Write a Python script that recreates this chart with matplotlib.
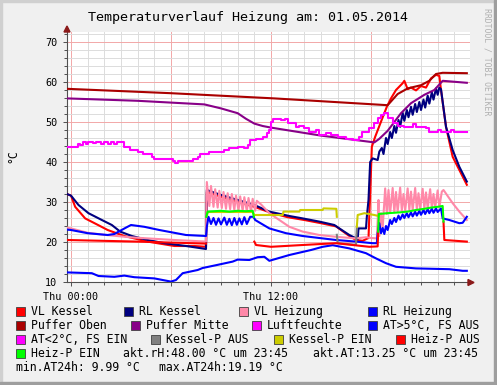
import numpy as np
import matplotlib
matplotlib.use("Agg")
import matplotlib.pyplot as plt
from matplotlib.patches import Rectangle, Polygon

nan = np.nan

# time in hours since Thu 00:00, values in degC / %
vl_kessel_t = [-0.25, 0.0, 0.25, 0.85, 1.6, 2.2, 3.2, 4.6, 6.2, 7.4, 8.1, 8.15, 9.0, 10.0, 11.0,
               12.0, 13.0, 14.0, 15.0, 15.9, 16.2, 16.7, 17.1, 17.5, 17.85, 17.95, 18.05, 18.25,
               18.75, 18.95, 19.2, 19.5, 19.9, 20.0, 20.2, 20.4, 20.7, 21.0, 21.3, 21.6, 21.9,
               22.1, 22.2, 22.5, 22.9, 23.3, 23.75]
vl_kessel_v = [32.0, 31.6, 28.8, 25.9, 24.3, 23.0, 21.5, 20.1, 19.0, 19.0, 18.8, 32.5, 31.3, 30.0, 28.8,
               27.3, 26.2, 25.5, 24.7, 23.9, 23.0, 21.5, 20.5, 20.3, 21.0, 32.2, 43.8, 46.3,
               51.7, 53.8, 55.9, 58.0, 59.7, 60.3, 58.2, 58.6, 57.9, 59.0, 58.6, 60.9, 61.8,
               61.5, 58.0, 48.8, 41.3, 38.0, 34.3]

rl_kessel_t = [-0.25, 0.0, 0.45, 1.05, 1.85, 2.45, 2.95, 3.65, 4.6, 5.6, 6.9, 8.1, 8.15, 9.0, 10.0,
               11.0, 11.9, 13.1, 13.9, 14.9, 15.8, 16.1, 16.7, 17.2, 17.25, 17.7, 17.75, 17.85,
               17.95, 18.1, 18.4, 18.5, 18.65, 18.75, 18.9, 19.0, 19.15, 19.25, 19.4, 19.5, 19.65,
               19.75, 19.9, 20.0, 20.15, 20.25, 20.4, 20.5, 20.65, 20.75, 20.9, 21.0, 21.15, 21.25,
               21.4, 21.5, 21.65, 21.75, 21.9, 22.0, 22.1, 22.2, 22.5, 22.9, 23.3, 23.75]
rl_kessel_v = [32.0, 31.6, 29.25, 27.2, 25.5, 24.25, 22.6, 21.5, 20.5, 19.7, 19.0, 18.25, 33.0, 31.75, 30.5,
               29.25, 27.6, 26.5, 25.9, 25.1, 24.25, 23.4, 21.75, 20.7, 23.4, 23.4, 26.3, 30.5,
               40.0, 40.9, 40.5, 42.6, 43.5, 42.0, 46.0, 44.5, 47.5, 46.0, 49.0, 47.3, 50.5,
               48.8, 52.3, 50.3, 53.0, 51.2, 53.8, 51.8, 54.5, 52.5, 55.0, 53.0, 55.6, 53.6,
               56.6, 54.6, 57.4, 55.6, 58.4, 56.8, 58.6, 58.2, 48.8, 43.0, 38.8, 35.1]

vl_heizung_t = [-0.25, 0.0, 1.0, 2.0, 3.5, 4.6, 6.2, 7.2, 8.1, 8.15, 8.3, 8.4, 8.55, 8.65, 8.8, 8.9,
                9.05, 9.15, 9.3, 9.4, 9.55, 9.65, 9.8, 9.9, 10.05, 10.15, 10.3, 10.4, 10.55, 10.65,
                10.8, 10.9, 11.05, 11.15, 11.4, 11.9, 12.5, 13.1, 13.9, 14.9, 15.9, 17.1, 17.7, 18.0,
                18.35, 18.4, 18.45, 18.5, 18.6, 18.7, 18.85, 18.95, 19.05, 19.15, 19.3, 19.4, 19.5,
                19.6, 19.75, 19.85, 19.95, 20.05, 20.2, 20.3, 20.4, 20.5, 20.65, 20.75, 20.85, 20.95,
                21.1, 21.2, 21.3, 21.4, 21.55, 21.65, 21.75, 21.85, 22.0, 22.1, 22.25, 22.35, 22.9,
                23.3, 23.75]
vl_heizung_v = [23.6, 23.4, 22.3, 21.8, 21.2, 20.9, 20.5, 20.3, 20.1, 35.0, 29.0, 34.0, 28.8, 33.2, 28.6, 32.8,
                28.5, 32.5, 28.3, 32.2, 28.2, 32.0, 28.0, 31.6, 27.9, 31.4, 27.8, 31.2, 27.7, 31.0,
                27.6, 30.8, 27.8, 30.3, 29.4, 27.2, 25.5, 23.8, 22.6, 21.75, 21.3, 20.9, 21.2, 21.0,
                20.9, 25.5, 30.5, 21.5, 27.2, 23.5, 33.4, 27.0, 33.0, 27.3, 33.5, 27.4, 32.5,
                27.6, 33.6, 27.8, 32.0, 27.8, 33.4, 28.0, 32.6, 28.0, 33.5, 28.1, 32.2, 28.2,
                33.3, 28.3, 32.4, 28.4, 33.2, 28.5, 32.0, 28.6, 32.9, 28.7, 32.6, 33.0, 29.7,
                27.6, 25.5]

rl_heizung_t = [-0.25, 0.0, 1.0, 2.2, 2.6, 3.3, 3.6, 4.4, 5.3, 6.9, 8.1, 8.15, 8.25, 8.4, 8.55, 8.7,
                8.85, 9.0, 9.2, 9.35, 9.5, 9.65, 9.8, 9.95, 10.1, 10.25, 10.4, 10.55, 10.75, 10.95,
                11.05, 11.9, 12.9, 13.9, 15.9, 17.1, 18.1, 18.35, 18.4, 18.5, 18.6, 18.7, 18.8, 18.9,
                19.0, 19.15, 19.25, 19.4, 19.5, 19.65, 19.75, 19.9, 20.0, 20.15, 20.25, 20.4, 20.5,
                20.65, 20.75, 20.9, 21.0, 21.15, 21.25, 21.4, 21.5, 21.65, 21.75, 21.9, 22.0, 22.2,
                22.3, 22.7, 23.3, 23.5, 23.75]
rl_heizung_v = [23.1, 23.0, 22.2, 21.75, 22.0, 23.6, 24.25, 23.8, 23.0, 21.75, 21.5, 23.8, 26.3, 24.5, 26.0, 24.3,
                25.9, 24.4, 26.1, 24.3, 25.8, 24.2, 26.0, 24.3, 25.9, 24.4, 26.2, 24.5, 26.3, 26.3,
                25.5, 23.4, 22.2, 21.5, 20.5, 20.1, 19.7, 19.7, 22.2, 24.7, 22.2, 23.5, 22.0, 24.0,
                23.0, 25.5, 24.5, 26.0, 25.0, 26.6, 25.6, 26.9, 26.0, 27.2, 26.2, 27.4, 26.4,
                27.6, 26.6, 27.8, 26.8, 28.0, 27.0, 28.2, 27.2, 28.3, 27.3, 28.4, 27.5, 28.4,
                25.9, 25.5, 24.7, 24.8, 26.3]

puffer_oben_t = [-0.25, 6.0, 12.2, 19.0, 19.6, 20.2, 21.0, 21.5, 21.9, 22.3, 23.75]
puffer_oben_v = [58.3, 57.2, 55.9, 54.2, 57.0, 58.4, 59.2, 60.3, 62.0, 62.3, 62.2]

puffer_mitte_t = [-0.25, 4.0, 8.0, 9.0, 10.0, 10.5, 11.0, 11.5, 12.0, 15.0, 18.2, 18.5, 19.0, 19.8,
                  20.4, 21.2, 21.8, 22.3, 23.75]
puffer_mitte_v = [55.9, 55.3, 54.4, 53.4, 52.2, 50.8, 49.6, 49.0, 48.6, 46.6, 44.9, 45.8, 47.8, 52.2,
                  54.7, 56.8, 58.0, 60.3, 59.8]

luft_t = [-0.25, 0.4, 0.55, 0.7, 0.9, 1.0, 1.3, 1.5, 1.8, 1.95, 2.2, 2.4, 2.6, 2.75, 3.15, 3.55,
          4.0, 4.3, 4.85, 4.95, 6.1, 6.25, 6.4, 7.3, 7.6, 7.75, 8.3, 9.2, 9.5, 10.0, 10.35, 10.6,
          10.75, 11.1, 11.5, 11.75, 11.9, 12.0, 12.1, 12.6, 12.85, 13.0, 13.5, 13.7, 14.0, 14.3,
          14.7, 14.9, 15.3, 15.6, 16.0, 16.5, 16.9, 17.3, 17.45, 17.9, 18.2, 18.4, 18.6, 18.8,
          19.0, 19.3, 19.6, 20.0, 20.5, 20.7, 21.3, 21.5, 22.0, 22.2, 22.8, 23.0, 23.75]
luft_v = [43.8, 44.5, 44.2, 45.0, 44.6, 45.1, 44.7, 45.0, 44.5, 45.0, 44.6, 45.1, 44.5, 44.9, 43.8, 43.0,
          42.6, 42.0, 41.3, 40.7, 40.2, 39.8, 40.2, 40.7, 41.3, 42.0, 42.6, 43.0, 43.4, 43.8, 43.4, 44.3,
          45.5, 45.7, 46.3, 47.2, 48.0, 50.1, 50.7, 50.4, 50.7, 49.7, 48.8, 49.0, 48.4, 47.6,
          48.0, 46.75, 47.2, 46.75, 46.2, 45.7, 45.5, 46.3, 47.6, 48.4, 49.7, 50.9, 51.75, 52.2,
          50.9, 49.7, 49.0, 48.8, 49.5, 48.8, 48.4, 47.6, 48.0, 47.6, 47.9, 47.6, 47.6]

at_t = [-0.25, 0.5, 1.25, 1.65, 2.6, 3.2, 3.8, 5.0, 6.0, 6.3, 6.7, 7.6, 7.9, 8.7, 9.7, 10.0, 10.7,
        11.2, 11.6, 11.9, 13.1, 14.4, 15.1, 15.7, 16.7, 17.7, 18.3, 18.9, 19.5, 20.7, 22.7, 23.5, 23.75]
at_v = [12.4, 12.3, 12.2, 11.5, 11.3, 11.6, 11.2, 10.9, 10.1, 10.5, 12.2, 13.0, 13.5, 14.2, 15.1, 15.6, 15.5,
        16.2, 16.3, 15.3, 16.75, 18.0, 18.8, 19.2, 18.4, 17.2, 15.9, 14.7, 13.8, 13.4, 13.2, 12.8, 12.8]

kessel_aus_t = [15.95, 16.0, 17.1, 17.15]
kessel_aus_v = [21.8, 19.7, 19.3, 23.8]

kessel_ein_t = [8.15, 8.2, 10.9, 11.0, 12.7, 12.75, 13.7, 13.75, 15.1, 15.15, 15.92, 15.95, nan,
                17.15, 17.2, 17.6, 18.2, 18.45]
kessel_ein_v = [26.5, 27.5, 27.5, 26.75, 26.75, 27.6, 27.6, 28.0, 28.0, 28.4, 28.3, 26.3, nan,
                23.8, 26.75, 27.2, 26.75, 26.5]

heiz_aus_t = [-0.25, 4.0, 8.1, nan, 11.0, 11.1, 12.0, 13.9, 15.9, 16.9, 17.9, 18.4, 18.43, nan,
              22.35, 22.4, 23.75]
heiz_aus_v = [20.5, 20.1, 19.6, nan, 20.1, 19.25, 18.8, 19.25, 19.7, 19.25, 18.8, 18.9, 22.6, nan,
              25.1, 20.5, 20.1]

heiz_ein_t = [8.12, 8.2, 9.0, 9.5, 10.0, 10.5, 10.9, 10.97, nan,
              18.43, 18.47, 19.0, 19.7, 20.2, 20.7, 21.2, 21.6, 22.0, 22.3, 22.35]
heiz_ein_v = [26.3, 27.6, 27.8, 27.6, 27.8, 27.7, 27.8, 26.3, nan,
              22.6, 27.0, 27.2, 27.4, 27.6, 28.0, 28.3, 28.6, 28.8, 29.0, 25.1]

legend_rows = [
    [("VL Kessel", "#FF0000"), ("RL Kessel", "#000080"), ("VL Heizung", "#FF88A8"), ("RL Heizung", "#0000FF")],
    [("Puffer Oben", "#AA0000"), ("Puffer Mitte", "#880088"), ("Luftfeuchte", "#FF00FF"), ("AT>5°C, FS AUS", "#0000FF")],
    [("AT<2°C, FS EIN", "#FF00FF"), ("Kessel-P AUS", "#808080"), ("Kessel-P EIN", "#CCCC00"), ("Heiz-P AUS", "#FF0000")],
    [("Heiz-P EIN", "#00FF00")],
]
legend_box_x = [[16, 124, 239.3, 368.3], [16, 131, 252.3, 368.3], [16, 151.3, 274, 396], [16]]
legend_row_y = [311.5, 325.5, 339.5, 353.5, 367.5]

W, H = 497, 385
MONO = "DejaVu Sans Mono"


def fx(x):
    return x / W


def fy(y):
    return 1 - y / H


fig = plt.figure(figsize=(W / 100, H / 100), dpi=100, facecolor="#F0F0F0")
ax = fig.add_axes([fx(67), fy(282), (470 - 67) / W, (282 - 32) / H])
ax.set_facecolor("white")

lw = 1.5
ax.plot(vl_kessel_t, vl_kessel_v, color="#FF0000", lw=lw, zorder=3)
ax.plot(rl_kessel_t, rl_kessel_v, color="#000080", lw=lw, zorder=3)
ax.plot(vl_heizung_t, vl_heizung_v, color="#FF88A8", lw=lw, zorder=3)
ax.plot(rl_heizung_t, rl_heizung_v, color="#0000FF", lw=lw, zorder=3)
ax.plot(puffer_oben_t, puffer_oben_v, color="#AA0000", lw=lw, zorder=3)
ax.plot(puffer_mitte_t, puffer_mitte_v, color="#880088", lw=lw, zorder=3)
ax.plot(luft_t, luft_v, color="#FF00FF", lw=lw, drawstyle="steps-post", zorder=3)
ax.plot(at_t, at_v, color="#0000FF", lw=lw, zorder=3)
ax.plot(kessel_aus_t, kessel_aus_v, color="#808080", lw=lw, zorder=3)
ax.plot(kessel_ein_t, kessel_ein_v, color="#CCCC00", lw=lw, zorder=3)
ax.plot(heiz_aus_t, heiz_aus_v, color="#FF0000", lw=lw, zorder=3)
ax.plot(heiz_ein_t, heiz_ein_v, color="#00FF00", lw=lw, zorder=3)

ax.set_xlim(-0.24, 23.94)
ax.set_ylim(10, 72.5)

ax.set_xticks([0, 6, 12, 18])
ax.set_xticklabels(["Thu 00:00", "", "Thu 12:00", ""])
ax.set_xticks(np.arange(0, 24, 1), minor=True)
ax.set_yticks(np.arange(10, 71, 10))
ax.set_yticks(np.arange(10, 73, 2), minor=True)

ax.grid(which="minor", color="#DCDCDC", lw=0.7, zorder=0)
ax.grid(which="major", color="#F2A8A8", lw=0.7, zorder=1)
ax.set_axisbelow(True)

for s in ["top", "right"]:
    ax.spines[s].set_visible(False)
for s in ["left", "bottom"]:
    ax.spines[s].set_color("#505050")
    ax.spines[s].set_linewidth(0.8)

ax.tick_params(which="both", direction="out", color="#505050", width=0.7)
ax.tick_params(which="major", length=3)
ax.tick_params(which="minor", length=2)
ax.tick_params(axis="x", pad=4)
ax.tick_params(axis="y", pad=4)
for lab in ax.get_xticklabels() + ax.get_yticklabels():
    lab.set_family(MONO)
    lab.set_fontsize(7.3)

# axis arrows
fig.patches.append(Polygon([(fx(64), fy(32)), (fx(70), fy(32)), (fx(67), fy(26))], closed=True,
                           transform=fig.transFigure, color="#8B1A1A", zorder=5))
fig.patches.append(Polygon([(fx(468), fy(279.5)), (fx(468), fy(285.5)), (fx(474), fy(282.5))], closed=True,
                           transform=fig.transFigure, color="#8B1A1A", zorder=5))

# frame shading
fig.patches.append(Rectangle((0, 0), fx(2), 1, transform=fig.transFigure, color="#D0D0D0"))
fig.patches.append(Rectangle((0, fy(2)), 1, 2 / H, transform=fig.transFigure, color="#D0D0D0"))
fig.patches.append(Rectangle((fx(494), 0), 3 / W, 1, transform=fig.transFigure, color="#9E9E9E"))
fig.patches.append(Rectangle((0, 0), 1, 3 / H, transform=fig.transFigure, color="#9E9E9E"))

fig.text(fx(248), fy(17), "Temperaturverlauf Heizung am: 01.05.2014", family=MONO, fontsize=9.6,
         ha="center", va="center")
fig.text(fx(13), fy(156), "°C", family=MONO, fontsize=8.3, rotation=90, ha="center", va="center")
fig.text(fx(487), fy(8), "RRDTOOL / TOBI OETIKER", family=MONO, fontsize=5.9, rotation=270,
         ha="center", va="top", color="#B0B0B0")

# legend
for r, items in enumerate(legend_rows):
    y = legend_row_y[r]
    for (label, col), bx in zip(items, legend_box_x[r]):
        fig.patches.append(Rectangle((fx(bx), fy(y + 4.5)), 9 / W, 9 / H, transform=fig.transFigure,
                                     facecolor=col, edgecolor="#404040", lw=0.6))
        fig.text(fx(bx + 14.7), fy(y), label, family=MONO, fontsize=8.3, ha="left", va="center")

fig.text(fx(123.3), fy(legend_row_y[3]), "akt.rH:48.00 °C um 23:45", family=MONO, fontsize=8.3,
         ha="left", va="center")
fig.text(fx(313.3), fy(legend_row_y[3]), "akt.AT:13.25 °C um 23:45", family=MONO, fontsize=8.3,
         ha="left", va="center")
fig.text(fx(16), fy(legend_row_y[4]), "min.AT24h: 9.99 °C", family=MONO, fontsize=8.3,
         ha="left", va="center")
fig.text(fx(158.7), fy(legend_row_y[4]), "max.AT24h:19.19 °C", family=MONO, fontsize=8.3,
         ha="left", va="center")

fig.savefig("out.png", dpi=100, facecolor=fig.get_facecolor())
